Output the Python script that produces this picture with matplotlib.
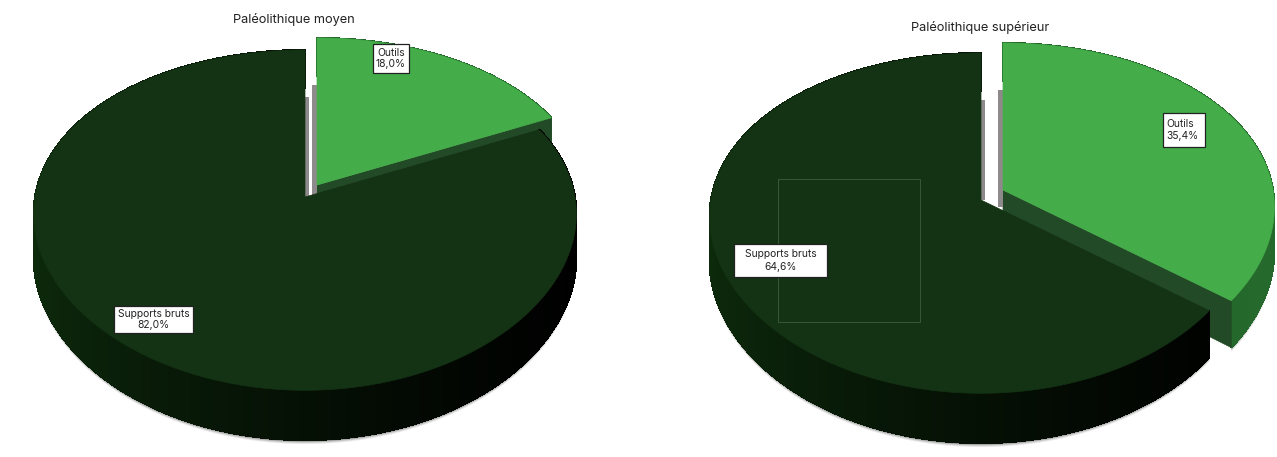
"""Two 3D-looking exploded pies, Paleolithique moyen / superieur."""

import numpy as np
import matplotlib.pyplot as plt
from matplotlib.colors import to_rgb
from matplotlib.patches import Polygon, Rectangle

plt.rcParams["font.family"] = ["Inter", "DejaVu Sans"]

TITLES = ["Paléolithique moyen", "Paléolithique supérieur"]
CATEGORIES = ["Outils", "Supports bruts"]
VALUES_MOYEN = [18.0, 82.0]
VALUES_SUPERIEUR = [35.4, 64.6]

GREEN = "#44AD4A"
GREEN_SIDE = ("#1E5A24", "#25692C")
GREEN_CUT = "#234A26"
DARK = "#143214"
DARK_SIDE = ("#0D2A0C", "#000000")
GREY = "#8E8A8C"

RX, RY = 270, 167  # ellipse radii in pixels
PERSP_X, PERSP_Y = 0.10, 0.136  # front of the pie looks bigger than the back
DEPTH = 43


def project(apex, frac):
    """Screen position of a rim point, frac is the clockwise share from 12 o'clock."""
    t = 2 * np.pi * np.asarray(frac)
    u, v = np.sin(t), np.cos(t)
    sx = 1 / (1 + PERSP_X * v)
    sy = 1 / (1 + PERSP_Y * v)
    return apex[0] + RX * u * sx, apex[1] - RY * v * sy, sy


def rim(apex, start, stop, n=300):
    return project(apex, np.linspace(start, stop, n))


def draw_side(ax, apex, start, stop, colors):
    # rim band cut in small quads, colour runs left to right across the screen
    x, y, s = rim(apex, start, stop)
    bottom = y + DEPTH * s
    # soft edge under the band
    for off, alpha in [(4, 0.10), (3, 0.15), (2, 0.25), (1, 0.4)]:
        pts = np.r_[np.c_[x, y], np.c_[x, bottom + off][::-1]]
        ax.add_patch(Polygon(pts, closed=True, fc="#333333", ec="none", alpha=alpha))
    c0, c1 = np.array(to_rgb(colors[0])), np.array(to_rgb(colors[1]))
    left, right = apex[0] - RX, apex[0] + RX
    for i in range(len(x) - 1):
        f = np.clip((x[i] - left) / (right - left), 0, 1) ** 0.7
        col = c0 + (c1 - c0) * f
        quad = [(x[i], y[i]), (x[i + 1], y[i + 1]), (x[i + 1], bottom[i + 1]), (x[i], bottom[i])]
        ax.add_patch(Polygon(quad, closed=True, fc=col, ec=col, lw=0.8, antialiased=False))


def draw_pie(ax, values, center_dark, center_green):
    share = values[0] / sum(values)
    gx, gy, gs = rim(center_green, 0, share)

    # outils slice: outer side, cut face, top
    draw_side(ax, center_green, 0, share, GREEN_SIDE)
    cut = [center_green, (gx[-1], gy[-1]), (gx[-1], gy[-1] + DEPTH * gs[-1]),
           (center_green[0], center_green[1] + DEPTH)]
    ax.add_patch(Polygon(cut, closed=True, fc=GREEN_CUT, ec=GREEN_CUT, lw=0.5))
    ax.add_patch(Rectangle((center_green[0] - 5, center_green[1] - 100), 5, 117,
                           fc=GREY, ec="none"))
    ax.add_patch(Polygon(np.r_[[center_green], np.c_[gx, gy]], closed=True,
                         fc=GREEN, ec=GREEN, lw=0.5))

    # supports bruts: side then top
    draw_side(ax, center_dark, share, 1, DARK_SIDE)
    ax.add_patch(Rectangle((center_dark[0], center_dark[1] - 100), 4, 100,
                           fc=GREY, ec="none"))
    dx, dy, _ = rim(center_dark, share, 1)
    ax.add_patch(Polygon(np.r_[[center_dark], np.c_[dx, dy]], closed=True,
                         fc=DARK, ec=DARK, lw=0.5))


def label(ax, box, name, value, ha="center", spacing=1.05):
    x0, y0, x1, y1 = box
    ax.add_patch(Rectangle((x0, y0), x1 - x0, y1 - y0, fc="white", ec="#222222",
                           lw=0.9, zorder=5))
    tx = (x0 + x1) / 2 if ha == "center" else x0 + 3
    ax.text(tx, (y0 + y1) / 2, f"{name}\n{value:.1f}%".replace(".", ","), ha=ha, va="center",
            fontsize=7.4, color="#222222", linespacing=spacing, zorder=6)


fig = plt.figure(figsize=(12.77, 4.57), dpi=100)
ax = fig.add_axes([0, 0, 1, 1])
ax.set_xlim(0, 1277)
ax.set_ylim(457, 0)
ax.axis("off")

draw_pie(ax, VALUES_MOYEN, (305, 197), (317, 185))
draw_pie(ax, VALUES_SUPERIEUR, (981, 200), (1003, 190))

# faint frame left over in the right-hand pie
ax.add_patch(Rectangle((778, 179), 142, 143, fc="none", ec="#3C5F3C", lw=0.6))

label(ax, (373, 44, 409, 73), CATEGORIES[0], VALUES_MOYEN[0])
label(ax, (114, 306, 193, 333), CATEGORIES[1], VALUES_MOYEN[1])
label(ax, (1163, 113, 1205, 147), CATEGORIES[0], VALUES_SUPERIEUR[0], ha="left", spacing=1.3)
label(ax, (734, 244, 827, 277), CATEGORIES[1], VALUES_SUPERIEUR[1], spacing=1.3)

ax.text(294, 20, TITLES[0], ha="center", va="center", fontsize=9.2, color="#222222")
ax.text(980, 27, TITLES[1], ha="center", va="center", fontsize=9.2, color="#222222")

fig.savefig("out.png", dpi=100)
